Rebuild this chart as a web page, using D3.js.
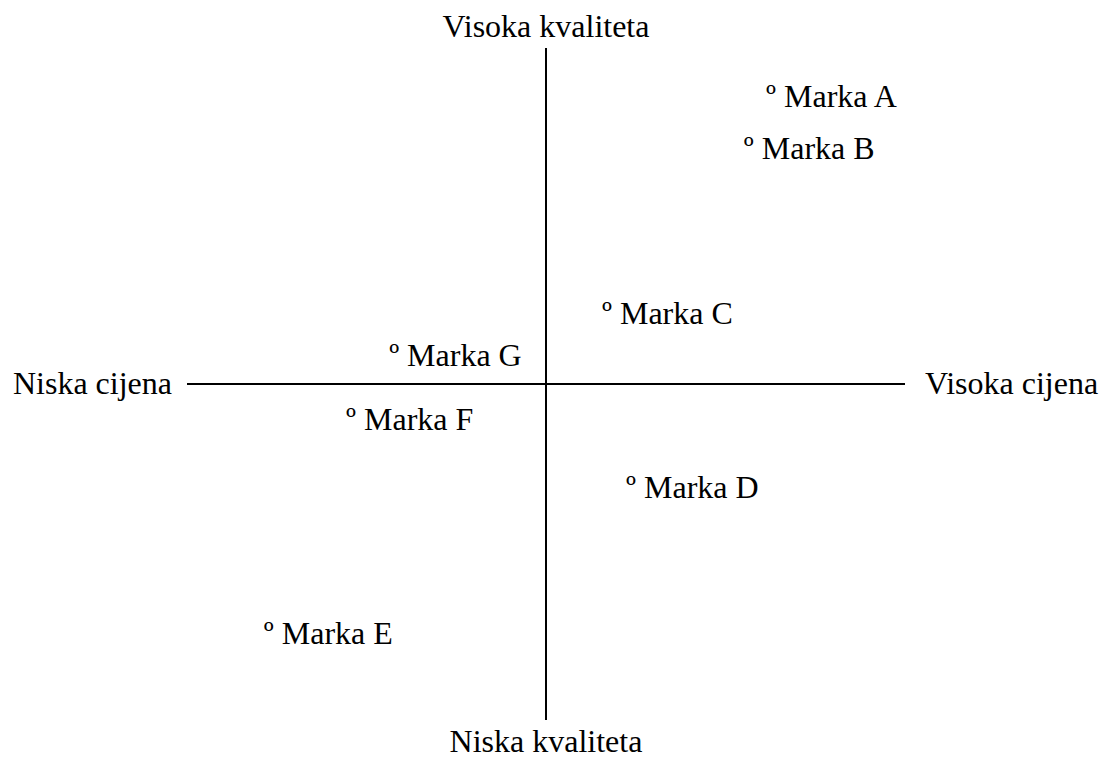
<!DOCTYPE html>
<html>
<head>
<meta charset="utf-8">
<script src="https://cdn.jsdelivr.net/npm/d3@7"></script>
</head>
<body style="margin:0">
<svg id="chart" width="1101" height="758"></svg>
<script>
// brands on the price / quality map
const brands = ['Marka A', 'Marka B', 'Marka C', 'Marka D', 'Marka E', 'Marka F', 'Marka G'];
const price = [6.27, 5.65, 1.70, 2.37, -7.72, -5.43, -4.23];
const quality = [8.75, 7.20, 2.29, -2.89, -7.23, -0.86, 1.04];

// axis end labels
const axisLabels = ['Niska cijena', 'Visoka cijena', 'Visoka kvaliteta', 'Niska kvaliteta'];

const svg = d3.select('#chart');

// scales
const x = d3.scaleLinear().domain([-10, 10]).range([187, 905]);
const y = d3.scaleLinear().domain([-10, 10]).range([720, 48]);

// axes lines
svg.append('line')
    .attr('x1', x(-10)).attr('x2', x(10))
    .attr('y1', y(0)).attr('y2', y(0))
    .attr('stroke', '#000').attr('stroke-width', 2);

svg.append('line')
    .attr('x1', x(0)).attr('x2', x(0))
    .attr('y1', y(-10)).attr('y2', y(10))
    .attr('stroke', '#000').attr('stroke-width', 2);

function label(tx, ty, anchor, str) {
    return svg.append('text')
        .attr('x', tx).attr('y', ty)
        .attr('text-anchor', anchor)
        .attr('font-size', 32)
        .attr('font-family', 'Liberation Serif')
        .text(str);
}

// axis end labels
label(x(-10) - 15, y(0) + 10, 'end', axisLabels[0]);
label(x(10) + 20, y(0) + 10, 'start', axisLabels[1]);
label(x(0), y(10) - 11, 'middle', axisLabels[2]);
label(x(0), y(-10) + 32, 'middle', axisLabels[3]);

// brand points (the small º marker sits at the data point)
brands.forEach((b, i) => {
    label(x(price[i]) - 5, y(quality[i]) + 17, 'start', '\u00BA ' + b);
});
</script>
</body>
</html>
